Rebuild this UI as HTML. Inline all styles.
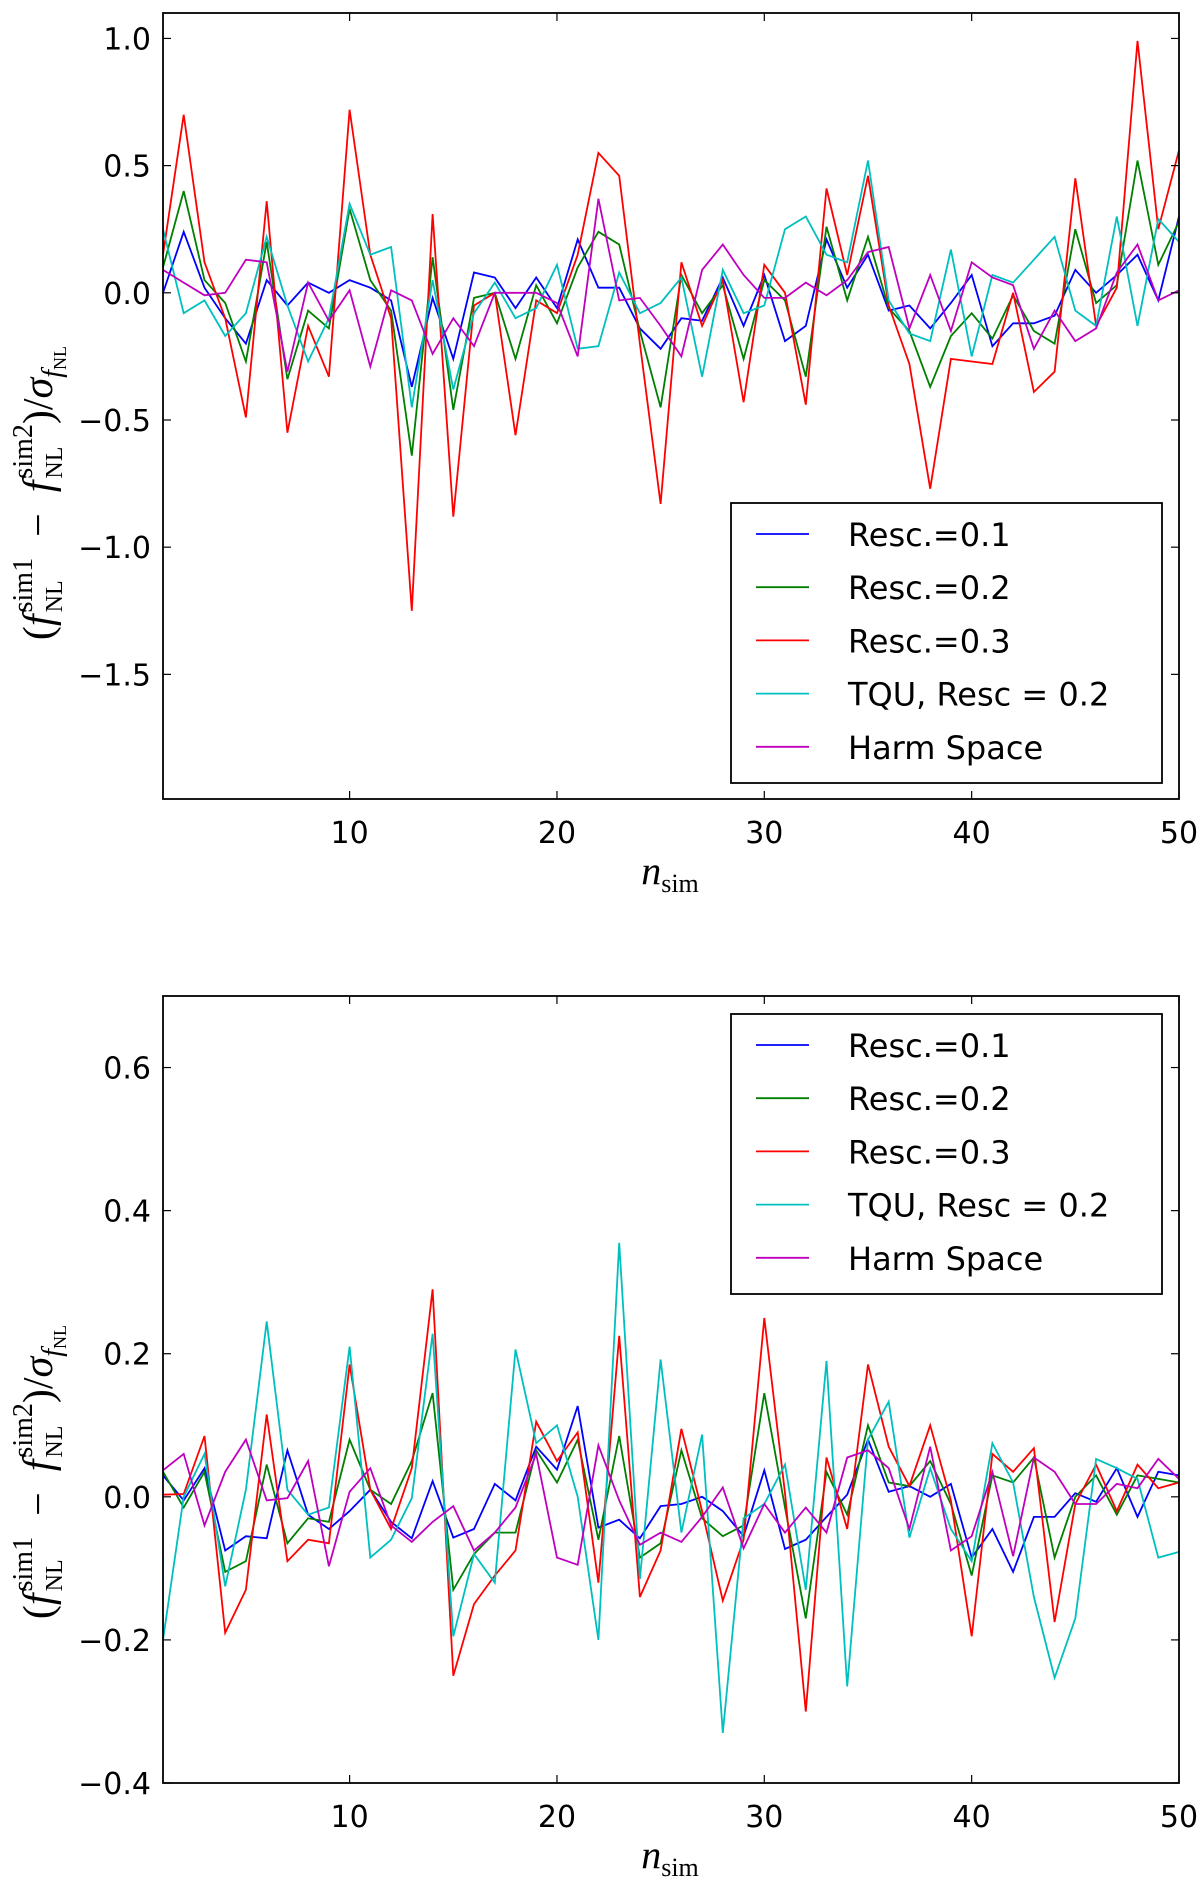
<!DOCTYPE html>
<html><head><meta charset="utf-8"><style>
html,body{margin:0;padding:0;background:#fff;}
svg{display:block;}
</style></head><body>
<svg id="fig" width="1200" height="1877" xmlns="http://www.w3.org/2000/svg"></svg>
<script>
const nsim = Array.from({length:50},(_,i)=>i+1);
const seriesNames = ["Resc.=0.1","Resc.=0.2","Resc.=0.3","TQU, Resc = 0.2","Harm Space"];
const seriesColors = ["#0000ff","#007f00","#ff0000","#00bfbf","#bf00bf"];
const top01 = [0.0,0.24,0.02,-0.1,-0.2,0.05,-0.05,0.04,0.0,0.05,0.02,-0.03,-0.37,-0.02,-0.26,0.08,0.06,-0.06,0.06,-0.06,0.21,0.02,0.02,-0.14,-0.22,-0.1,-0.11,0.06,-0.13,0.07,-0.19,-0.13,0.21,0.02,0.15,-0.07,-0.05,-0.14,-0.04,0.07,-0.21,-0.12,-0.12,-0.09,0.09,0.0,0.07,0.15,-0.03,0.3];
const top02 = [0.1,0.40,0.05,-0.04,-0.27,0.2,-0.34,-0.07,-0.14,0.33,0.05,-0.07,-0.64,0.14,-0.46,-0.02,0.0,-0.26,0.03,-0.12,0.1,0.24,0.19,-0.15,-0.45,0.07,-0.08,0.03,-0.26,0.05,-0.03,-0.33,0.26,-0.03,0.22,-0.06,-0.15,-0.37,-0.17,-0.08,-0.18,-0.01,-0.15,-0.2,0.25,-0.04,0.03,0.52,0.11,0.28];
const top03 = [0.15,0.70,0.12,-0.1,-0.49,0.36,-0.55,-0.13,-0.33,0.72,0.15,-0.1,-1.25,0.31,-0.88,-0.05,0.0,-0.56,-0.03,-0.08,0.15,0.55,0.46,-0.2,-0.83,0.12,-0.13,0.05,-0.43,0.11,0.0,-0.44,0.41,0.07,0.46,-0.05,-0.28,-0.77,-0.26,-0.27,-0.28,0.0,-0.39,-0.31,0.45,-0.13,0.02,0.99,0.25,0.56];
const topTQU = [0.25,-0.08,-0.03,-0.17,-0.08,0.22,-0.05,-0.27,-0.1,0.35,0.15,0.18,-0.45,0.05,-0.38,-0.08,0.04,-0.1,-0.06,0.11,-0.22,-0.21,0.08,-0.08,-0.04,0.06,-0.33,0.09,-0.08,-0.05,0.25,0.3,0.15,0.12,0.52,-0.03,-0.16,-0.19,0.17,-0.25,0.07,0.04,0.13,0.22,-0.07,-0.13,0.3,-0.13,0.29,0.2];
const topHarm = [0.09,0.04,-0.01,0.0,0.13,0.12,-0.31,0.04,-0.11,0.01,-0.29,0.01,-0.03,-0.24,-0.1,-0.21,0.0,0.0,0.0,-0.04,-0.25,0.37,-0.03,-0.02,-0.13,-0.25,0.09,0.19,0.07,-0.02,-0.02,0.04,-0.01,0.05,0.16,0.18,-0.14,0.07,-0.15,0.12,0.06,0.03,-0.22,-0.07,-0.19,-0.14,0.08,0.19,-0.03,0.01];
const bot01 = [0.03,-0.005,0.04,-0.075,-0.055,-0.058,0.065,-0.025,-0.045,-0.02,0.01,-0.035,-0.058,0.022,-0.057,-0.045,0.018,-0.005,0.07,0.038,0.127,-0.043,-0.032,-0.058,-0.013,-0.01,0.0,-0.02,-0.055,0.037,-0.073,-0.06,-0.028,0.003,0.08,0.007,0.015,0.0,0.018,-0.085,-0.045,-0.105,-0.028,-0.028,0.005,-0.007,0.04,-0.028,0.035,0.03];
const bot02 = [0.035,-0.015,0.035,-0.105,-0.09,0.045,-0.065,-0.03,-0.035,0.08,0.01,-0.01,0.05,0.145,-0.13,-0.08,-0.05,-0.05,0.065,0.02,0.08,-0.06,0.085,-0.085,-0.065,0.065,-0.03,-0.055,-0.04,0.145,-0.015,-0.17,0.035,-0.025,0.1,0.02,0.015,0.05,-0.01,-0.11,0.03,0.02,0.055,-0.085,0.0,0.03,-0.025,0.03,0.025,0.02];
const bot03 = [0.003,0.004,0.085,-0.19,-0.13,0.115,-0.09,-0.06,-0.065,0.185,0.01,-0.045,0.04,0.29,-0.25,-0.15,-0.11,-0.075,0.105,0.05,0.09,-0.12,0.225,-0.14,-0.075,0.095,-0.02,-0.145,-0.06,0.25,0.005,-0.3,0.055,-0.045,0.185,0.07,0.015,0.1,-0.005,-0.195,0.06,0.035,0.068,-0.175,-0.01,0.045,-0.02,0.045,0.012,0.02];
const botTQU = [-0.2,0.0,0.06,-0.125,0.01,0.245,0.01,-0.025,-0.015,0.21,-0.085,-0.06,-0.002,0.228,-0.195,-0.08,-0.12,0.206,0.075,0.1,0.0,-0.2,0.355,-0.115,0.192,-0.05,0.087,-0.33,-0.03,-0.01,0.045,-0.13,0.19,-0.265,0.08,0.133,-0.057,0.04,-0.045,-0.09,0.075,0.02,-0.14,-0.253,-0.17,0.053,0.04,0.025,-0.085,-0.077];
const botHarm = [0.037,0.06,-0.04,0.035,0.08,-0.005,-0.002,0.05,-0.097,0.007,0.04,-0.04,-0.063,-0.035,-0.013,-0.075,-0.05,-0.015,0.06,-0.085,-0.095,0.072,-0.005,-0.067,-0.05,-0.063,-0.028,0.013,-0.072,-0.01,-0.05,-0.015,-0.05,0.055,0.065,0.04,-0.045,0.07,-0.075,-0.055,0.035,-0.083,0.055,0.035,-0.01,-0.01,0.018,0.012,0.053,0.025];
const xTicks = [10,20,30,40,50];
const topYTicks = [-1.5,-1.0,-0.5,0.0,0.5,1.0];
const topYLabels = ["\u22121.5","\u22121.0","\u22120.5","0.0","0.5","1.0"];
const botYTicks = [-0.4,-0.2,0.0,0.2,0.4,0.6];
const botYLabels = ["\u22120.4","\u22120.2","0.0","0.2","0.4","0.6"];

const NS="http://www.w3.org/2000/svg";
const svg=document.getElementById('fig');
function mk(tag,attrs,parent){const e=document.createElementNS(NS,tag);for(const k in attrs)e.setAttribute(k,attrs[k]);(parent||svg).appendChild(e);return e;}

function panel(cfg){
  const g=mk('g',{});
  
  
  const L=163,R=1179,T=cfg.top,B=cfg.bottom;
  const sx=v=>L+(v-1)/(49)*(R-L);
  const sy=v=>T+(cfg.ymax-v)/(cfg.ymax-cfg.ymin)*(B-T);
  cfg.series.forEach((arr,si)=>{
    const p=mk('polyline',{points:arr.map((v,i)=>sx(nsim[i]).toFixed(1)+','+sy(v).toFixed(1)).join(' '),fill:'none',stroke:seriesColors[si],'stroke-width':1.8,'stroke-linejoin':'miter'},g);
    
    
  });
  const fr=mk('rect',{x:L,y:T,width:R-L,height:B-T,fill:'none',stroke:'#000','stroke-width':1.8},g);
  
  
  xTicks.forEach(t=>{
    const x=sx(t);
    mk('line',{x1:x,y1:B,x2:x,y2:B-8,stroke:'#000','stroke-width':1.2},g);
    mk('line',{x1:x,y1:T,x2:x,y2:T+8,stroke:'#000','stroke-width':1.2},g);
    const tx=mk('text',{x:x,y:B+44,'text-anchor':'middle','font-family':'DejaVu Sans, Liberation Sans, sans-serif','font-size':30},g);
    tx.textContent=t;
    
    
  });
  cfg.yticks.forEach((t,i)=>{
    const y=sy(t);
    mk('line',{x1:L,y1:y,x2:L+8,y2:y,stroke:'#000','stroke-width':1.2},g);
    mk('line',{x1:R,y1:y,x2:R-8,y2:y,stroke:'#000','stroke-width':1.2},g);
    const tx=mk('text',{x:L-12,y:y+11,'text-anchor':'end','font-family':'DejaVu Sans, Liberation Sans, sans-serif','font-size':30},g);
    tx.textContent=cfg.ylabels[i];
    
    
  });
  const xl=mk('text',{x:670,y:B+85,'text-anchor':'middle','font-family':'Liberation Serif, serif','font-size':40},g);
  
  
  const n=mk('tspan',{'font-style':'italic'},xl);n.textContent='n';
  const s=mk('tspan',{'font-size':26,dy:8},xl);s.textContent='sim';
  const yl=mk('text',{transform:'translate(52,'+cfg.ylabCenter+') rotate(-90)','text-anchor':'middle','font-family':'Liberation Serif, serif','font-size':42},g);
  
  
  const parts=[['(',{}],['f',{'font-style':'italic'}],['NL',{'font-size':24,dy:10,dx:2}],['sim1',{'font-size':28,dx:-32,dy:-30}],['\u2002\u2212\u2002',{dy:20}],['f',{'font-style':'italic'}],['NL',{'font-size':24,dy:10,dx:2}],['sim2',{'font-size':28,dx:-32,dy:-30}],[')/',{dy:20}],['\u03c3',{'font-style':'italic'}],['f',{'font-style':'italic','font-size':28,dy:9}],['NL',{'font-size':18,dy:5}]];
  parts.forEach(([t,a])=>{const sp=mk('tspan',a,yl);sp.textContent=t;});
  const lg=mk('g',{},g);
  
  
  mk('rect',{x:731,y:cfg.legTop,width:431,height:280,fill:'#fff',stroke:'#000','stroke-width':1.8},lg);
  seriesNames.forEach((nm,i)=>{
    const y=cfg.legTop+31+i*53.2;
    const e=mk('g',{},lg);
    
    
    mk('line',{x1:756,y1:y,x2:809,y2:y,stroke:seriesColors[i],'stroke-width':1.8},e);
    const t=mk('text',{x:848,y:y+12,'font-family':'DejaVu Sans, Liberation Sans, sans-serif','font-size':32},e);
    t.textContent=nm;
  });
}
panel({name:'top-chart',top:13,bottom:799,ymin:-1.99,ymax:1.10,series:[top01,top02,top03,topTQU,topHarm],yticks:topYTicks,ylabels:topYLabels,legTop:503,ylabCenter:493});
panel({name:'bottom-chart',top:996,bottom:1783,ymin:-0.4,ymax:0.7,series:[bot01,bot02,bot03,botTQU,botHarm],yticks:botYTicks,ylabels:botYLabels,legTop:1014,ylabCenter:1472});
</script>
</body></html>
